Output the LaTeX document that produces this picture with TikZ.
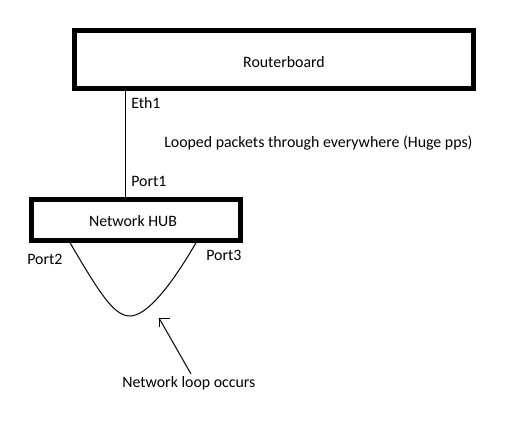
\documentclass[tikz,border=0pt]{standalone}
\usepackage{fontspec}
\setmainfont{Carlito}
\begin{document}
\begin{tikzpicture}[x=0.75pt,y=-0.75pt,
  box/.style={draw=black,line width=3.75pt,inner sep=0pt},
  lbl/.style={inner sep=0pt,font=\fontsize{11.9pt}{14pt}\selectfont},
  wire/.style={draw=black,line width=0.75pt}]
\useasboundingbox[fill=white] (0,0) rectangle (522,428);
\node[box,minimum width=299.25pt,minimum height=43.5pt] (router) at (274,59.5) {};
\node[lbl] (rtext) at (284,62) {Routerboard};
\node[box,minimum width=156.75pt,minimum height=30.75pt] (hub) at (136,220) {};
\node[lbl] (htext) at (133,221) {Network HUB};
\node[lbl,anchor=west] (eth) at (131,103) {Eth1};
\node[lbl,anchor=west] (loop) at (164,143) {Looped packets through everywhere (Huge pps)};
\node[lbl,anchor=west] (p1) at (131,181) {Port1};
\node[lbl,anchor=west] (p2) at (27,259) {Port2};
\node[lbl,anchor=west] (p3) at (206,255) {Port3};
\node[lbl,anchor=west] (occ) at (122,383) {Network loop occurs};
\draw[wire] (router.south west -| 125,0) -- (hub.north west -| 125,0);
\coordinate (c2) at (69,241);
\coordinate (c3) at (197,241);
\draw[wire] (c2) .. controls (100,294) and (114,316) .. (130,316)
  .. controls (146,316) and (170,288) .. (c3);
\coordinate (tip) at (159,318);
\coordinate (tail) at (191,374);
\draw[wire] (tail) -- (tip);
\draw[wire] (tip) -- ++(11,0);
\draw[wire] (tip) -- ++(0,9);
\end{tikzpicture}
\end{document}
